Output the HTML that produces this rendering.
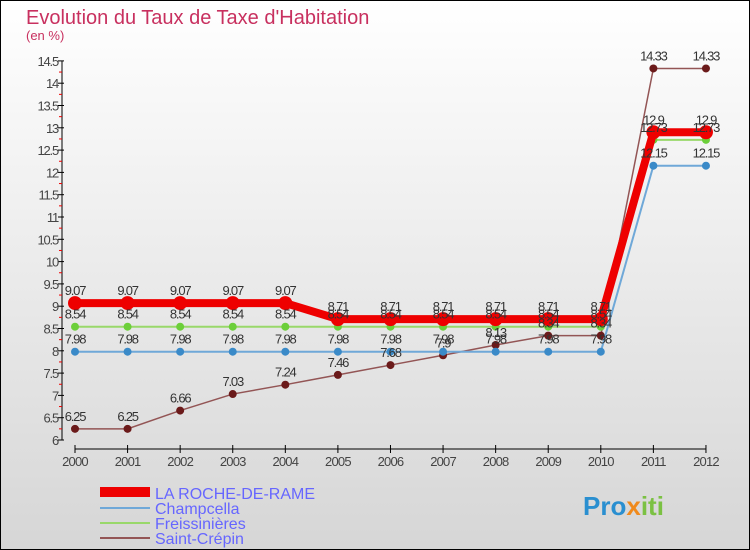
<!DOCTYPE html>
<html><head><meta charset="utf-8"><style>
body{margin:0;width:750px;height:550px;overflow:hidden;font-family:"Liberation Sans",sans-serif}
svg{display:block}
</style></head><body>
<svg width="750" height="550">
<defs><linearGradient id="bg" x1="0" y1="0" x2="0" y2="1"><stop offset="0" stop-color="#ffffff"/><stop offset="1" stop-color="#d6d6d6"/></linearGradient></defs>
<rect x="0.5" y="0.5" width="749" height="549" fill="url(#bg)" stroke="#000"/>
<text x="26" y="24" font-size="20" fill="#c8305f">Evolution du Taux de Taxe d'Habitation</text>
<text x="26" y="40" font-size="13" fill="#c8305f">(en %)</text>
<g id="axes"></g><g id="series"></g><g id="labels"></g>
<g>
<rect x="100" y="487" width="50" height="10" fill="#e00"/>
<line x1="100" y1="508" x2="150" y2="508" stroke="#6fa8d8" stroke-width="2"/>
<line x1="100" y1="523" x2="150" y2="523" stroke="#99d86a" stroke-width="2"/>
<line x1="100" y1="538" x2="150" y2="538" stroke="#935555" stroke-width="2"/>
<g font-size="16" fill="#6666ff">
<text x="155" y="499">LA ROCHE-DE-RAME</text>
<text x="155" y="514">Champcella</text>
<text x="155" y="529">Freissinières</text>
<text x="155" y="544">Saint-Crépin</text>
</g></g>
<text x="583" y="515" font-size="26" font-weight="bold" fill="#2a8fd0">Pro<tspan fill="#f08a1c">x</tspan><tspan fill="#7bc143">iti</tspan></text>
</svg>
<script>
const years=["2000","2001","2002","2003","2004","2005","2006","2007","2008","2009","2010","2011","2012"];
const yTicks=[6,6.5,7,7.5,8,8.5,9,9.5,10,10.5,11,11.5,12,12.5,13,13.5,14,14.5];
const laRoche=[9.07,9.07,9.07,9.07,9.07,8.71,8.71,8.71,8.71,8.71,8.71,12.9,12.9];
const champcella=[7.98,7.98,7.98,7.98,7.98,7.98,7.98,7.98,7.98,7.98,7.98,12.15,12.15];
const freissinieres=[8.54,8.54,8.54,8.54,8.54,8.54,8.54,8.54,8.54,8.54,8.54,12.73,12.73];
const saintCrepin=[6.25,6.25,6.66,7.03,7.24,7.46,7.68,7.9,8.13,8.34,8.34,14.33,14.33];
const NS="http://www.w3.org/2000/svg";
const xS=i=>75+i*52.58, yS=v=>440-(v-6)*44.6;
function mk(t,a,p){const e=document.createElementNS(NS,t);for(const k in a)e.setAttribute(k,a[k]);p.appendChild(e);return e;}
const ax=document.getElementById('axes'),sg=document.getElementById('series'),lg=document.getElementById('labels');
let e=mk('line',{x1:62,y1:yS(14.5),x2:62,y2:yS(6),stroke:'#000'},ax);


yTicks.forEach(v=>{
 const y=yS(v);
 mk('line',{x1:58,y1:y,x2:64,y2:y,stroke:'#000'},ax);
 if(v<14.5) mk('line',{x1:59,y1:y-11.15,x2:62,y2:y-11.15,stroke:'#e00'},ax);
 const t=mk('text',{x:58,y:y+5,'font-size':13,fill:'#444','text-anchor':'end','letter-spacing':'-1.2'},ax);
 t.textContent=String(v);
 
 
});
e=mk('line',{x1:xS(0),y1:449,x2:xS(12),y2:449,stroke:'#000'},ax);


years.forEach((yr,i)=>{
 const x=xS(i);
 mk('line',{x1:x,y1:445,x2:x,y2:453,stroke:'#000'},ax);
 const t=mk('text',{x:x,y:466,'font-size':13,fill:'#444','text-anchor':'middle','letter-spacing':'-0.8'},ax);
 t.textContent=yr;
 
 
});
function draw(data,name,color,lineCol,w,r){
 const g=mk('g',{},sg);
 
 
 mk('polyline',{points:data.map((v,i)=>xS(i)+','+yS(v)).join(' '),fill:'none',stroke:lineCol,'stroke-width':w},g);
 data.forEach((v,i)=>{
  const c=mk('circle',{cx:xS(i),cy:yS(v),r:r,fill:color},g);
  
  
  const t=mk('text',{x:xS(i),y:yS(v)-8,'font-size':13,fill:'#333','text-anchor':'middle','letter-spacing':'-1.2'},lg);
  t.textContent=String(v);
  
  
 });
}
draw(saintCrepin,'saint-crepin','#6b1a1a','#935555',1.5,4);
draw(champcella,'champcella','#3a8ac8','#6fa8d8',2,4);
draw(freissinieres,'freissinieres','#6ccf3a','#99d86a',2,4);
draw(laRoche,'la-roche','#e00','#e00',8,7);
</script>
</body></html>
